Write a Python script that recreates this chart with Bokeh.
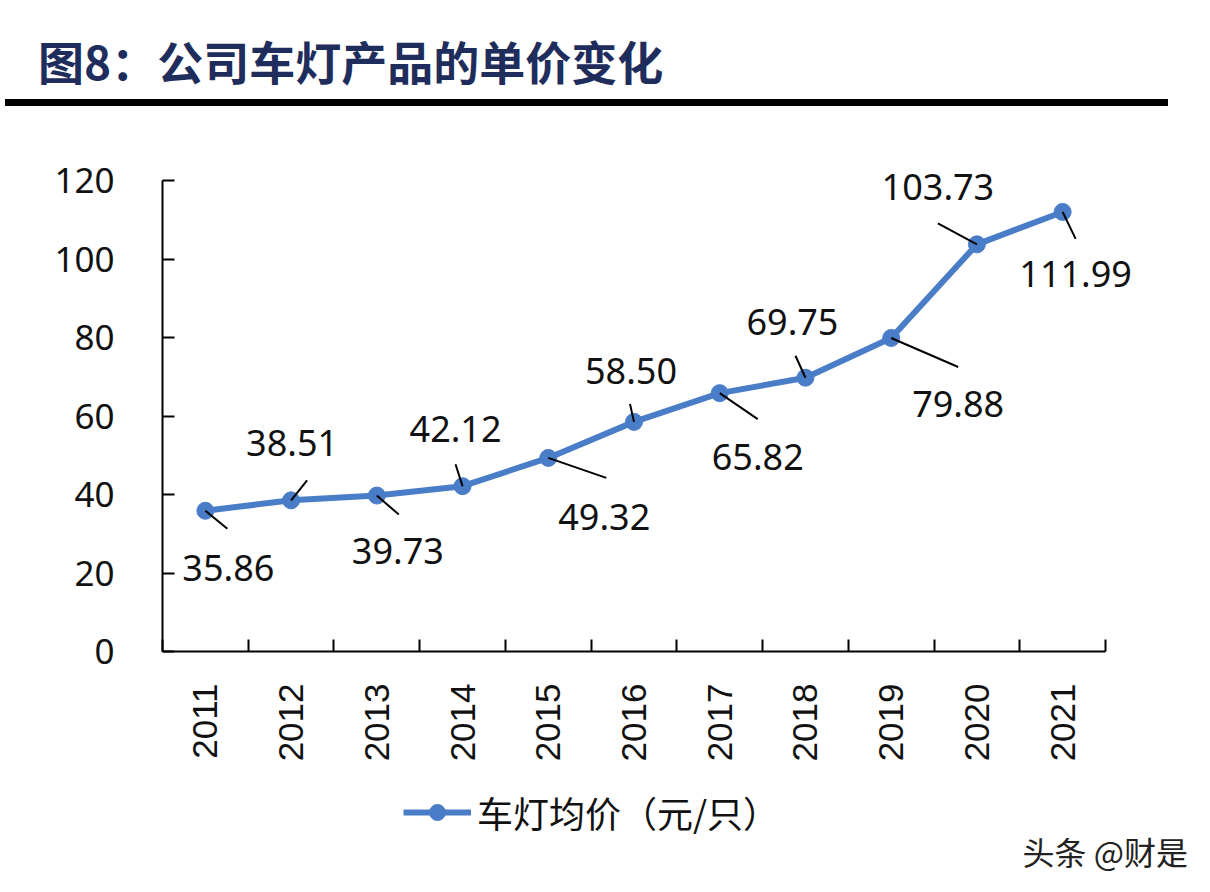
import math
from bokeh.plotting import figure
from bokeh.layouts import column
from bokeh.models import (FixedTicker, ColumnDataSource, Legend, LegendItem,
                          Range1d, Div, Label)
from bokeh.core.properties import value
from bokeh.embed import file_html
from bokeh.resources import INLINE

# ---------------- data ----------------
years = ["2011", "2012", "2013", "2014", "2015", "2016",
         "2017", "2018", "2019", "2020", "2021"]
prices = [35.86, 38.51, 39.73, 42.12, 49.32, 58.50,
          65.82, 69.75, 79.88, 103.73, 111.99]
y_ticks = [0, 20, 40, 60, 80, 100, 120]
series_name = "车灯均价（元/只）"
title_text = "图8：公司车灯产品的单价变化"
watermark_text = "头条 @财是"

# ---------------- label placement (screen px, y down) ----------------
label_dx = [23, 1, 21, -7, 56, -3, 38, -13, 67, -39, 13]
label_dy = [57, -57, 55, -57, 59, -51, 64, -56, 66, -57, 62]
leader_dx = [22, 16, 22, -7, 58, -4, 38, -10, 67, -39, 13]
leader_dy = [18, -20, 19, -22, 20, -18, 26, -22, 29, -21, 27]

# ---------------- layout (page pixels) ----------------
W = 1205
HEAD_H = 118
MAIN_H = 662
FOOT_H = 106
AX_L, AX_R, AX_T, AX_B = 162, 1105, 180, 651   # axis extents on the page
FOOT_TOP = HEAD_H + MAIN_H

n = len(years)
y_top = y_ticks[-1]
px_x = (AX_R - AX_L) / n
px_y = (AX_B - AX_T) / y_top

BLUE = "#4A7DC8"
INK = "#111111"

# ---------------- header: title + rule ----------------
header = Div(
    text=(
        '<div style="position:relative;width:%dpx;height:%dpx;">'
        '<div style="position:absolute;left:38px;top:28px;white-space:nowrap;'
        "font-family:'Noto Sans CJK SC';font-weight:bold;font-size:46px;"
        'line-height:64px;color:#1F2D5C;">%s</div>'
        '<div style="position:absolute;left:5px;top:99px;width:1163px;height:7px;'
        'background:#000000;"></div></div>'
    ) % (W, HEAD_H, title_text),
    width=W, height=HEAD_H, margin=0,
)

# ---------------- main chart ----------------
xs = [i + 0.5 for i in range(n)]
src = ColumnDataSource(dict(
    x=xs, y=prices,
    lbl=[f"{v:.2f}" for v in prices],
    ldx=label_dx, ldy=label_dy,
    x1=[x + dx / px_x for x, dx in zip(xs, leader_dx)],
    y1=[y - dy / px_y for y, dy in zip(prices, leader_dy)],
))

x_end = (W - AX_L) / px_x
y_end = (AX_B - HEAD_H) / px_y

p = figure(width=W, height=MAIN_H, output_backend="svg", toolbar_location=None,
           x_range=Range1d(0, x_end), y_range=Range1d(0, y_end),
           min_border_left=AX_L, min_border_right=0,
           min_border_top=0, min_border_bottom=MAIN_H - (AX_B - HEAD_H),
           margin=0)
p.outline_line_color = None
p.xgrid.visible = False
p.ygrid.visible = False

line_r = p.line("x", "y", source=src, line_width=6, line_color=BLUE)
dot_r = p.scatter("x", "y", source=src, size=17, fill_color=BLUE, line_color=BLUE)
p.segment("x", "y", "x1", "y1", source=src, line_color="black", line_width=2)
p.text("x", "y", text="lbl", source=src, x_offset="ldx", y_offset="ldy",
       text_align="center", text_baseline="middle",
       text_font=value("Noto Sans"), text_font_size="36px", text_color=INK)

xa = p.xaxis[0]
xa.bounds = (0, n)
xa.ticker = FixedTicker(ticks=xs, minor_ticks=list(range(n + 1)))
xa.major_label_overrides = {x: yr for x, yr in zip(xs, years)}
xa.major_tick_in = 0
xa.major_tick_out = 0
xa.minor_tick_in = 12
xa.minor_tick_out = 0
xa.minor_tick_line_color = "black"
xa.minor_tick_line_width = 2
xa.axis_line_color = "black"
xa.axis_line_width = 2
xa.major_label_orientation = math.pi / 2
xa.major_label_standoff = 32
xa.major_label_text_font = "Liberation Sans"
xa.major_label_text_font_size = "35px"
xa.major_label_text_color = INK

ya = p.yaxis[0]
ya.bounds = (0, y_top)
ya.ticker = FixedTicker(ticks=y_ticks)
ya.major_tick_in = 12
ya.major_tick_out = 0
ya.minor_tick_line_color = None
ya.major_tick_line_color = "black"
ya.major_tick_line_width = 2
ya.axis_line_color = "black"
ya.axis_line_width = 2
ya.major_label_standoff = 48
ya.major_label_text_font = "Noto Sans"
ya.major_label_text_font_size = "35px"
ya.major_label_text_color = INK

# ---------------- footer: legend + watermark ----------------
# frame aligned with the main chart; x in page pixels, y = FOOT_TOP - page y
foot = figure(width=W, height=FOOT_H, output_backend="svg", toolbar_location=None,
              x_range=Range1d(AX_L, W), y_range=Range1d(-FOOT_H, 0),
              min_border_left=AX_L, min_border_right=0,
              min_border_top=0, min_border_bottom=0,
              outline_line_color=None, margin=0)
foot.axis.visible = False
foot.grid.visible = False
# same series drawn in the footer (outside its visible range) so the legend key matches
k_line = foot.line("x", "y", source=src, line_width=6, line_color=BLUE)
k_dot = foot.scatter("x", "y", source=src, size=17, fill_color=BLUE, line_color=BLUE)
legend = Legend(items=[LegendItem(label=series_name, renderers=[k_line, k_dot])],
                location=(403 - AX_L, FOOT_H - 38 - 20), orientation="horizontal",
                glyph_width=68, glyph_height=40, label_height=40,
                label_standoff=6, padding=0, margin=0,
                border_line_color=None, background_fill_alpha=0,
                label_text_font="Noto Sans CJK SC", label_text_font_size="36px",
                label_text_color=INK)
foot.add_layout(legend, "center")
foot.add_layout(Label(x=1022, y=FOOT_TOP - 850, text=watermark_text,
                      text_font="Noto Sans CJK SC", text_font_size="32px",
                      text_color="#222222", text_baseline="middle"))

layout = column(header, p, foot, spacing=0)
open("out.html", "w").write(file_html(layout, INLINE))
